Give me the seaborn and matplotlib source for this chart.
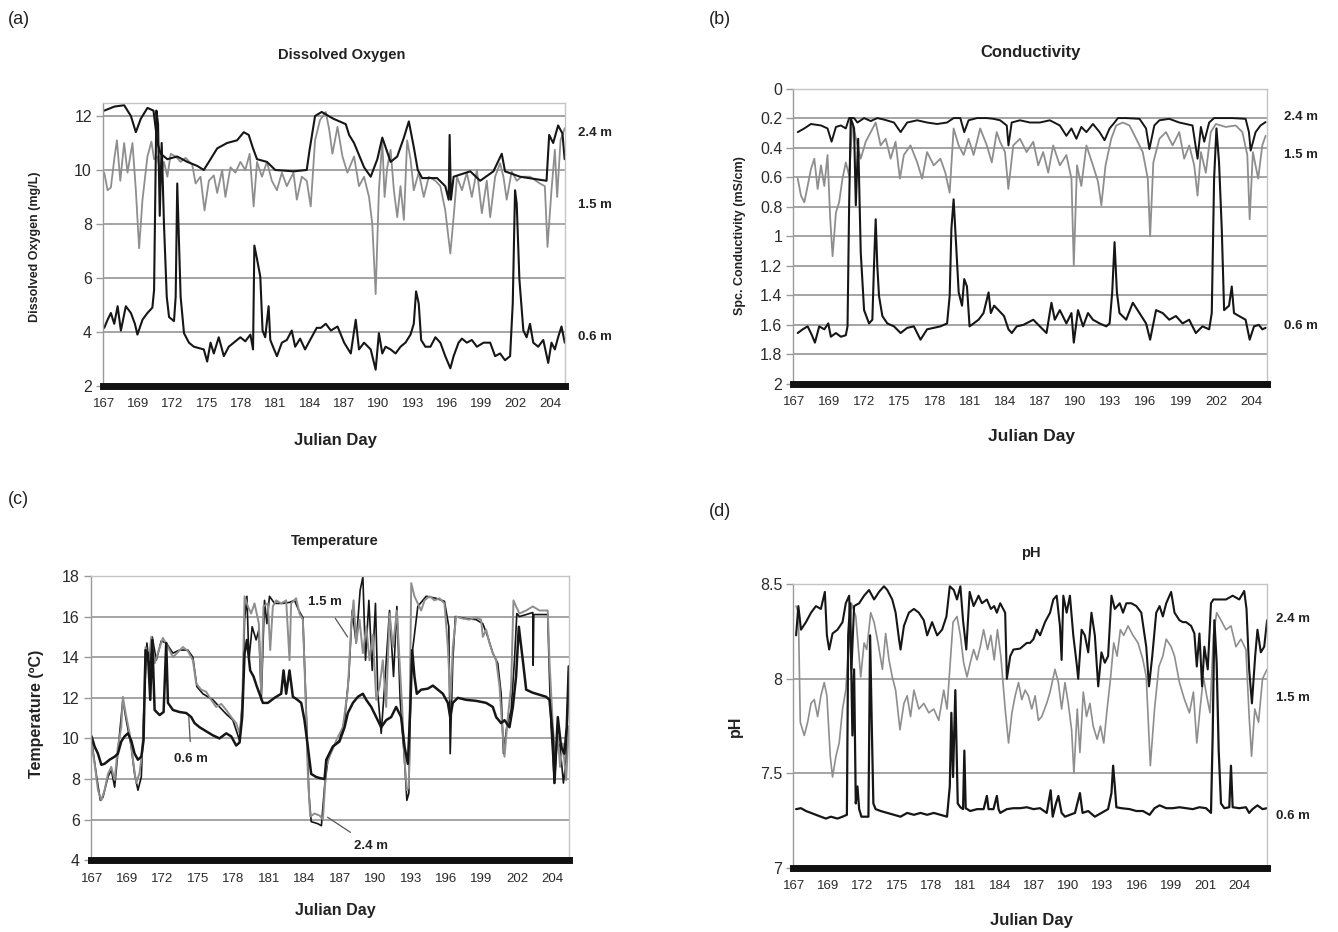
import numpy as np
import matplotlib
matplotlib.use('Agg')
import matplotlib.pyplot as plt
import seaborn as sns

sns.set_theme(style='white')
plt.rcParams['font.family'] = ['Liberation Sans', 'DejaVu Sans']

# x tick labels (evenly spaced category labels, as in the original)
day_labels = ['167', '169', '172', '175', '178', '181', '184', '187',
              '190', '193', '196', '199', '202', '204']
day_labels_ph = ['167', '169', '172', '175', '178', '181', '184', '187',
                 '190', '193', '196', '199', '201', '204']

# ---------------- (a) Dissolved oxygen (mg/L) ----------------
do_24_day = [167.05, 167.9, 168.7, 169.26, 169.67, 170.08, 170.63, 171.13, 171.46, 171.73,
             172.28, 173.1, 173.93, 174.76, 175.3, 175.72, 176.41, 177.23, 178.06, 178.61,
             179.02, 179.38, 179.71, 180.53, 181.22, 182.73, 183.83, 184.05, 184.52, 185.07,
             186.03, 187.06, 187.34, 187.75, 188.58, 189.13, 189.68, 190.09, 190.36, 190.78,
             191.33, 191.88, 192.29, 192.7, 193.03, 193.39, 194.63, 195.31, 195.59, 195.67,
             195.78, 196.0, 197.38, 198.2, 199.3, 199.99, 200.26, 201.5, 203.7, 203.92,
             204.25, 204.66, 205.02, 205.2]
do_24 = [12.2, 12.35, 12.4, 12.0, 11.4, 11.9, 12.3, 12.2, 11.0, 10.6,
         10.4, 10.5, 10.3, 10.15, 10.0, 10.3, 10.8, 11.0, 11.1, 11.4,
         11.3, 10.8, 10.4, 10.3, 10.0, 9.95, 10.0, 10.7, 12.0, 12.15,
         11.9, 11.7, 11.3, 11.0, 10.1, 9.75, 10.4, 11.2, 10.85, 10.3,
         10.5, 11.2, 11.8, 10.85, 10.0, 9.7, 9.7, 9.4, 8.9, 11.3,
         8.9, 9.75, 9.95, 9.6, 9.95, 10.6, 9.95, 9.75, 9.6, 11.3,
         11.0, 11.65, 11.35, 10.4]

do_15_day = [167.05, 167.33, 167.6, 167.88, 168.1, 168.38, 168.7, 168.98, 169.39, 169.67,
             169.94, 170.22, 170.63, 170.96, 171.18, 171.46, 171.73, 172.0, 172.28, 172.56,
             172.97, 173.38, 173.79, 174.34, 174.62, 175.03, 175.36, 175.72, 176.13, 176.41,
             176.82, 177.09, 177.51, 177.92, 178.33, 178.74, 179.1, 179.43, 179.71, 180.12,
             180.53, 180.94, 181.36, 181.77, 182.18, 182.73, 183.01, 183.42, 183.83, 184.16,
             184.52, 184.93, 185.41, 185.69, 185.96, 186.38, 186.79, 187.2, 187.75, 188.16,
             188.58, 188.99, 189.26, 189.54, 189.81, 190.09, 190.28, 190.5, 190.78, 191.05,
             191.33, 191.6, 191.88, 192.15, 192.43, 192.7, 193.11, 193.53, 193.94, 194.49,
             194.9, 195.31, 195.73, 196.0, 196.28, 196.69, 197.1, 197.51, 197.93, 198.34,
             198.75, 199.03, 199.44, 199.85, 200.13, 200.4, 200.81, 201.23, 201.64, 202.33,
             203.15, 203.56, 203.78, 204.11, 204.39, 204.58, 204.86, 205.21]
do_15 = [9.9, 9.25, 9.35, 10.4, 11.1, 9.6, 11.0, 9.9, 11.0, 9.25,
         7.1, 8.9, 10.5, 11.05, 10.4, 10.5, 9.75, 10.3, 9.75, 10.6,
         10.5, 10.3, 10.45, 10.2, 9.5, 9.75, 8.5, 9.6, 9.8, 9.15,
         10.0, 9.0, 10.1, 9.9, 10.3, 10.0, 10.6, 8.65, 10.3, 9.75,
         10.3, 9.6, 9.25, 9.9, 9.4, 9.9, 8.9, 9.75, 9.6, 8.65,
         11.1, 11.85, 12.15, 11.5, 10.6, 11.6, 10.5, 9.9, 10.5, 9.4,
         9.75, 9.0, 8.0, 5.4, 9.25, 11.1, 9.0, 10.1, 10.75, 9.25,
         8.25, 9.4, 8.15, 11.1, 10.4, 9.25, 9.9, 9.0, 9.75, 9.6,
         9.4, 8.5, 6.9, 8.25, 9.75, 9.25, 9.9, 9.0, 10.0, 8.4,
         9.6, 8.25, 9.75, 10.25, 9.75, 8.9, 9.95, 9.6, 9.75, 9.75,
         9.5, 9.4, 7.15, 9.25, 10.75, 9.0, 11.1, 11.55]

do_06_day = [167.05, 167.33, 167.6, 167.88, 168.16, 168.43, 168.84, 169.26, 169.59, 169.8,
             170.22, 170.63, 171.04, 171.18, 171.37, 171.51, 171.65, 171.81, 172.0, 172.23,
             172.42, 172.83, 172.97, 173.1, 173.24, 173.38, 173.66, 174.07, 174.48, 174.89,
             175.3, 175.58, 175.86, 176.13, 176.54, 176.96, 177.37, 177.78, 178.33, 178.74,
             179.16, 179.38, 179.49, 179.71, 179.98, 180.17, 180.39, 180.67, 180.81, 181.08,
             181.36, 181.77, 182.18, 182.59, 182.87, 183.28, 183.69, 184.11, 184.66, 185.0,
             185.41, 185.83, 186.38, 186.93, 187.48, 187.89, 188.16, 188.58, 189.13, 189.54,
             189.81, 190.09, 190.36, 190.78, 191.19, 191.6, 192.01, 192.43, 192.7, 192.89,
             193.11, 193.31, 193.66, 194.08, 194.49, 194.9, 195.31, 195.73, 196.0, 196.41,
             196.69, 197.1, 197.51, 197.93, 198.48, 199.03, 199.44, 199.85, 200.26, 200.68,
             200.9, 201.09, 201.23, 201.45, 201.78, 202.05, 202.33, 202.6, 203.01, 203.43,
             203.84, 204.11, 204.39, 204.66, 204.94, 205.21]
do_06 = [4.15, 4.45, 4.7, 4.3, 4.95, 4.05, 4.95, 4.7, 4.3, 3.9,
         4.45, 4.7, 4.9, 5.55, 12.2, 11.7, 8.3, 11.0, 8.0, 5.3,
         4.55, 4.4, 5.3, 9.5, 7.4, 5.3, 3.95, 3.6, 3.45, 3.4,
         3.35, 2.9, 3.6, 3.2, 3.8, 3.1, 3.45, 3.6, 3.8, 3.65,
         3.9, 3.35, 7.2, 6.7, 6.05, 4.05, 3.8, 4.95, 3.7, 3.4,
         3.1, 3.6, 3.7, 4.05, 3.45, 3.75, 3.35, 3.7, 4.15, 4.15,
         4.3, 4.05, 4.2, 3.6, 3.2, 4.45, 3.35, 3.6, 3.35, 2.6,
         3.95, 3.2, 3.45, 3.35, 3.2, 3.45, 3.6, 3.9, 4.3, 5.5,
         5.05, 3.7, 3.45, 3.45, 3.8, 3.6, 3.1, 2.65, 3.1, 3.6,
         3.75, 3.6, 3.7, 3.45, 3.6, 3.6, 3.1, 3.2, 2.95, 3.1,
         5.05, 9.25, 8.75, 5.95, 4.05, 3.8, 4.3, 3.6, 3.45, 3.7,
         2.85, 3.6, 3.35, 3.8, 4.2, 3.6]

# ---------------- (b) Specific conductivity (mS/cm) ----------------
sc_24_day = [167.3, 167.83, 168.37, 169.18, 169.71, 170.04, 170.39, 170.79, 171.19, 171.46,
             171.86, 172.13, 172.67, 173.21, 173.74, 174.28, 175.09, 175.63, 176.16, 176.97,
             177.77, 178.58, 179.39, 179.92, 180.46, 180.78, 181.13, 181.81, 182.61, 183.15,
             183.69, 184.22, 184.36, 184.62, 185.29, 186.1, 186.9, 187.71, 188.52, 189.05,
             189.46, 189.86, 190.26, 190.67, 191.2, 191.74, 192.14, 192.55, 192.95, 193.22,
             193.89, 194.97, 195.5, 195.77, 196.17, 196.58, 197.38, 198.19, 198.73, 199.26,
             199.67, 199.94, 200.21, 200.61, 201.01, 202.49, 203.56, 203.83, 203.97, 204.37,
             204.77, 205.18]
sc_24 = [0.295, 0.27, 0.24, 0.25, 0.27, 0.36, 0.26, 0.25, 0.27, 0.2,
         0.2, 0.23, 0.2, 0.22, 0.2, 0.21, 0.23, 0.295, 0.23, 0.215,
         0.23, 0.24, 0.23, 0.2, 0.2, 0.295, 0.215, 0.2, 0.2, 0.205,
         0.215, 0.25, 0.385, 0.23, 0.215, 0.23, 0.23, 0.215, 0.25, 0.32,
         0.27, 0.34, 0.26, 0.295, 0.24, 0.295, 0.35, 0.27, 0.23, 0.2,
         0.2, 0.205, 0.27, 0.41, 0.25, 0.215, 0.205, 0.23, 0.24, 0.25,
         0.475, 0.26, 0.36, 0.23, 0.2, 0.2, 0.205, 0.295, 0.42, 0.295,
         0.25, 0.227]

sc_15_day = [167.3, 167.56, 167.83, 168.1, 168.37, 168.64, 168.91, 169.18, 169.45, 169.71,
             169.93, 170.12, 170.39, 170.65, 170.92, 171.19, 171.46, 171.73, 172.13, 172.4,
             172.8, 173.21, 173.61, 174.01, 174.42, 174.82, 175.22, 175.57, 175.89, 176.43,
             176.97, 177.37, 177.77, 178.31, 178.85, 179.25, 179.6, 179.92, 180.33, 180.73,
             181.13, 181.54, 182.07, 182.61, 183.01, 183.41, 183.68, 184.08, 184.35, 184.75,
             185.29, 185.83, 186.37, 186.77, 187.17, 187.58, 187.98, 188.52, 189.05, 189.46,
             189.65, 189.91, 190.26, 190.67, 191.2, 191.61, 191.88, 192.22, 192.68, 193.08,
             193.62, 194.16, 194.7, 195.23, 195.64, 195.83, 196.09, 196.58, 197.12, 197.65,
             198.19, 198.59, 199.0, 199.4, 199.67, 199.94, 200.34, 200.74, 201.15, 201.95,
             202.76, 203.3, 203.7, 203.89, 204.15, 204.58, 204.91, 205.18]
sc_15 = [0.61, 0.725, 0.77, 0.66, 0.545, 0.475, 0.68, 0.52, 0.66, 0.45,
         0.885, 1.135, 0.84, 0.77, 0.61, 0.5, 0.59, 0.23, 0.385, 0.475,
         0.36, 0.295, 0.23, 0.385, 0.34, 0.475, 0.36, 0.61, 0.45, 0.385,
         0.5, 0.61, 0.43, 0.52, 0.475, 0.57, 0.705, 0.27, 0.385, 0.45,
         0.34, 0.45, 0.27, 0.385, 0.5, 0.295, 0.36, 0.43, 0.68, 0.385,
         0.34, 0.43, 0.36, 0.52, 0.43, 0.57, 0.385, 0.52, 0.45, 0.61,
         1.2, 0.52, 0.66, 0.385, 0.52, 0.63, 0.79, 0.52, 0.34, 0.25,
         0.23, 0.25, 0.34, 0.43, 0.61, 1.0, 0.5, 0.34, 0.295, 0.385,
         0.295, 0.475, 0.385, 0.52, 0.725, 0.43, 0.57, 0.295, 0.24, 0.26,
         0.25, 0.295, 0.45, 0.885, 0.43, 0.61, 0.385, 0.32]

sc_06_day = [167.3, 167.7, 168.1, 168.42, 168.69, 169.04, 169.45, 169.77, 169.98, 170.39,
             170.79, 171.19, 171.33, 171.46, 171.59, 171.86, 172.0, 172.19, 172.4, 172.67,
             173.07, 173.34, 173.48, 173.61, 173.74, 173.88, 174.15, 174.55, 175.09, 175.63,
             176.16, 176.7, 177.24, 177.77, 178.31, 178.85, 179.39, 179.6, 179.74, 179.92,
             180.11, 180.33, 180.6, 180.78, 181.0, 181.21, 181.54, 181.94, 182.34, 182.75,
             182.93, 183.2, 183.55, 184.0, 184.36, 184.63, 185.03, 185.56, 186.37, 186.9,
             187.44, 187.84, 188.11, 188.52, 189.05, 189.46, 189.65, 189.99, 190.4, 190.8,
             191.2, 191.74, 192.28, 192.55, 192.76, 192.95, 193.14, 193.35, 193.89, 194.43,
             194.97, 195.5, 195.83, 196.31, 196.85, 197.38, 197.92, 198.46, 198.99, 199.53,
             200.07, 200.61, 200.82, 201.01, 201.2, 201.41, 201.63, 201.82, 202.22, 202.44,
             202.62, 203.03, 203.56, 203.89, 204.24, 204.64, 204.91, 205.18]
sc_06 = [1.655, 1.63, 1.61, 1.665, 1.72, 1.61, 1.63, 1.59, 1.68, 1.655,
         1.68, 1.67, 1.61, 0.79, 0.2, 0.27, 0.79, 0.34, 1.11, 1.5,
         1.59, 1.565, 1.18, 0.885, 1.2, 1.405, 1.54, 1.59, 1.61, 1.655,
         1.62, 1.61, 1.7, 1.63, 1.62, 1.61, 1.59, 1.405, 0.95, 0.75,
         1.04, 1.38, 1.47, 1.29, 1.34, 1.61, 1.59, 1.565, 1.52, 1.38,
         1.52, 1.47, 1.5, 1.54, 1.63, 1.655, 1.61, 1.6, 1.565, 1.61,
         1.655, 1.45, 1.565, 1.5, 1.59, 1.52, 1.72, 1.5, 1.61, 1.52,
         1.565, 1.59, 1.61, 1.59, 1.38, 1.04, 1.38, 1.52, 1.565, 1.45,
         1.52, 1.59, 1.7, 1.5, 1.52, 1.565, 1.54, 1.59, 1.565, 1.655,
         1.61, 1.63, 1.52, 0.61, 0.27, 0.5, 0.95, 1.5, 1.47, 1.34,
         1.52, 1.54, 1.565, 1.7, 1.61, 1.6, 1.63, 1.62]

# ---------------- (c) Temperature (degC) ----------------
t_24_day = [167.0, 167.37, 167.7, 167.91, 168.31, 168.58, 168.85, 169.25, 169.51, 169.78,
            170.18, 170.45, 170.72, 170.99, 171.25, 171.44, 171.65, 171.87, 172.19, 172.59,
            172.99, 173.53, 174.06, 174.73, 175.13, 175.45, 175.93, 176.74, 177.27, 177.81,
            178.34, 178.88, 179.14, 179.28, 179.47, 179.63, 179.89, 180.21, 180.43, 180.62,
            180.88, 181.07, 181.28, 181.69, 182.35, 182.89, 183.29, 183.64, 183.96, 184.23,
            184.44, 184.63, 185.16, 185.45, 185.7, 185.97, 186.37, 186.9, 187.31, 187.65,
            187.92, 188.24, 188.56, 188.78, 188.99, 189.26, 189.53, 189.79, 189.98, 190.25,
            190.52, 190.92, 191.24, 191.51, 191.77, 192.12, 192.31, 192.47, 192.66, 192.84,
            193.19, 193.86, 194.66, 195.33, 195.68, 195.79, 196.0, 196.21, 197.07, 197.87,
            198.41, 198.81, 199.21, 199.61, 199.88, 200.07, 200.33, 200.68, 200.95, 201.14,
            201.35, 201.89, 202.42, 202.45, 202.5, 203.62, 203.76, 203.89, 204.16, 204.35,
            204.61, 204.88, 205.1, 205.31]
t_24 = [9.9, 8.25, 6.95, 7.1, 8.1, 8.45, 7.6, 10.25, 11.9, 10.9,
        9.6, 8.25, 7.45, 8.1, 12.2, 14.7, 13.35, 15.0, 13.85, 14.8,
        14.7, 14.2, 14.35, 14.35, 14.0, 12.55, 12.2, 11.9, 11.55, 11.2,
        10.9, 9.9, 12.2, 15.85, 17.0, 13.85, 15.5, 14.85, 15.35, 11.9,
        16.8, 15.65, 17.0, 16.65, 16.65, 16.7, 16.8, 16.3, 15.95, 11.4,
        7.3, 5.9, 5.8, 5.7, 7.6, 8.95, 9.6, 9.9, 10.9, 13.05,
        16.3, 14.7, 17.3, 17.95, 13.85, 16.8, 13.35, 16.65, 12.2, 10.25,
        12.55, 16.3, 13.05, 16.5, 11.9, 8.95, 6.95, 7.3, 13.85, 14.7,
        16.5, 17.0, 16.9, 16.75, 15.5, 9.25, 13.85, 16.0, 15.9, 15.85,
        15.65, 15.0, 14.2, 13.7, 12.2, 9.25, 10.55, 11.4, 13.85, 16.15,
        16.0, 16.1, 16.2, 13.6, 16.1, 16.1, 13.0, 10.55, 7.8, 9.9,
        9.6, 7.8, 8.95, 13.35]

t_15_day = [167.0, 167.24, 167.51, 167.78, 168.04, 168.31, 168.58, 168.85, 169.11, 169.38,
            169.51, 169.73, 170.05, 170.32, 170.58, 170.85, 171.12, 171.33, 171.6, 171.79,
            172.06, 172.32, 172.72, 173.13, 173.53, 173.93, 174.33, 174.73, 175.13, 175.4,
            175.8, 176.2, 176.6, 177.0, 177.41, 177.81, 178.21, 178.61, 178.88, 179.09,
            179.28, 179.55, 179.81, 180.08, 180.43, 180.62, 180.8, 181.15, 181.34, 181.55,
            181.82, 182.22, 182.62, 182.89, 183.02, 183.42, 183.69, 183.96, 184.17, 184.36,
            184.55, 184.9, 185.3, 185.57, 185.84, 186.1, 186.64, 187.17, 187.57, 187.84,
            188.03, 188.24, 188.51, 188.78, 189.05, 189.31, 189.58, 189.85, 190.12, 190.38,
            190.65, 190.92, 191.19, 191.51, 191.72, 191.93, 192.12, 192.31, 192.47, 192.66,
            192.92, 193.19, 193.46, 193.73, 194.13, 194.53, 194.93, 195.33, 195.6, 195.81,
            196.0, 196.27, 196.8, 197.34, 197.87, 198.27, 198.41, 198.68, 198.94, 199.21,
            199.48, 199.75, 199.96, 200.15, 200.41, 200.68, 200.87, 201.08, 201.35, 201.89,
            202.42, 202.96, 203.62, 203.76, 204.03, 204.24, 204.43, 204.61, 204.83, 205.1,
            205.31]
t_15 = [9.75, 8.75, 7.45, 6.95, 7.45, 8.25, 8.6, 7.95, 9.6, 10.55,
        12.05, 11.25, 10.25, 8.95, 7.8, 8.3, 9.6, 14.5, 13.85, 15.0,
        13.7, 14.2, 14.95, 14.5, 14.0, 14.25, 14.5, 14.3, 13.85, 12.7,
        12.4, 12.3, 11.9, 11.55, 11.7, 11.4, 11.05, 10.75, 10.25, 11.4,
        17.0, 16.5, 16.15, 16.65, 15.65, 12.2, 16.5, 16.65, 14.35, 16.5,
        16.8, 16.65, 16.8, 13.85, 16.65, 16.9, 16.15, 15.85, 12.2, 8.25,
        6.15, 6.3, 6.2, 6.0, 8.6, 9.1, 9.9, 10.55, 12.4, 15.5,
        16.8, 14.7, 15.85, 14.2, 15.5, 13.85, 15.1, 11.9, 12.55, 13.85,
        11.55, 16.15, 14.5, 16.3, 13.85, 11.55, 8.95, 7.45, 7.6, 17.65,
        17.0, 16.65, 16.3, 16.8, 17.0, 16.8, 16.9, 16.65, 14.5, 11.9,
        14.5, 16.0, 15.9, 15.85, 15.95, 15.85, 15.0, 15.35, 14.7, 14.2,
        13.85, 12.55, 10.6, 9.1, 11.0, 12.55, 16.8, 16.5, 16.15, 16.3,
        16.5, 16.3, 16.3, 13.85, 10.6, 8.95, 10.1, 8.6, 9.75, 7.95,
        10.6]

t_06_day = [167.0, 167.24, 167.51, 167.78, 168.04, 168.44, 168.85, 169.11, 169.38, 169.65,
            169.92, 170.18, 170.45, 170.72, 170.99, 171.17, 171.33, 171.52, 171.71, 171.87,
            172.06, 172.46, 172.78, 172.99, 173.13, 173.53, 174.06, 174.6, 175.0, 175.27,
            175.67, 176.2, 176.74, 177.27, 177.81, 178.21, 178.61, 178.88, 179.09, 179.28,
            179.47, 179.73, 180.0, 180.27, 180.48, 180.75, 181.15, 181.69, 182.22, 182.41,
            182.62, 182.89, 183.16, 183.42, 183.83, 184.09, 184.36, 184.63, 185.03, 185.3,
            185.7, 185.84, 186.37, 186.9, 187.31, 187.57, 187.98, 188.38, 188.78, 189.05,
            189.45, 189.85, 190.25, 190.65, 191.05, 191.45, 191.85, 192.12, 192.39, 192.58,
            192.74, 192.92, 193.11, 193.46, 193.99, 194.4, 194.8, 195.2, 195.6, 195.79,
            196.0, 196.4, 197.07, 197.87, 198.68, 199.21, 199.48, 199.88, 200.15, 200.55,
            200.82, 201.08, 201.3, 201.62, 201.89, 202.42, 202.96, 203.49, 203.76, 204.03,
            204.16, 204.43, 204.69, 204.96, 205.15, 205.31]
t_06 = [10.1, 9.6, 9.25, 8.7, 8.75, 8.95, 9.1, 9.25, 9.85, 10.1,
        10.25, 9.9, 9.25, 8.95, 9.1, 9.9, 14.35, 14.2, 11.9, 14.85,
        11.4, 11.15, 11.3, 14.7, 11.75, 11.4, 11.3, 11.25, 11.05, 10.75,
        10.55, 10.35, 10.15, 10.0, 10.25, 10.1, 9.65, 9.8, 11.05, 14.2,
        14.85, 13.35, 13.05, 12.55, 12.2, 11.75, 11.75, 12.0, 12.2, 13.35,
        12.2, 13.35, 12.05, 11.95, 11.75, 10.9, 9.6, 8.25, 8.1, 8.05,
        8.0, 8.95, 9.6, 9.85, 10.55, 11.25, 11.75, 12.05, 12.2, 11.9,
        11.55, 11.05, 10.55, 10.9, 11.05, 11.55, 11.05, 9.6, 8.75, 11.4,
        14.35, 13.05, 12.2, 12.4, 12.45, 12.6, 12.4, 12.2, 11.75, 11.05,
        11.75, 12.0, 11.9, 11.85, 11.75, 11.55, 11.05, 10.75, 10.9, 10.55,
        11.55, 13.05, 15.5, 13.85, 12.4, 12.25, 12.15, 12.05, 11.9, 10.1,
        7.8, 11.05, 9.6, 9.25, 10.6, 13.55]

# ---------------- (d) pH ----------------
ph_24_day = [167.17, 167.36, 167.58, 167.99, 168.41, 168.82, 169.23, 169.56, 169.73, 169.92,
             170.2, 170.61, 171.03, 171.3, 171.58, 171.77, 171.99, 172.41, 172.82, 173.23,
             173.65, 174.06, 174.47, 174.75, 175.16, 175.44, 175.72, 175.85, 176.13, 176.54,
             176.96, 177.37, 177.78, 178.06, 178.47, 178.89, 179.3, 179.66, 179.94, 180.27,
             180.54, 180.82, 181.04, 181.31, 181.59, 181.92, 182.33, 182.61, 183.02, 183.35,
             183.63, 183.85, 184.13, 184.54, 184.68, 184.96, 185.23, 185.78, 186.34, 186.61,
             186.89, 187.16, 187.44, 187.85, 188.27, 188.54, 188.82, 189.09, 189.23, 189.37,
             189.65, 189.92, 190.2, 190.47, 190.61, 190.89, 191.16, 191.44, 191.71, 191.99,
             192.27, 192.54, 192.82, 193.09, 193.37, 193.65, 194.06, 194.33, 194.61, 195.02,
             195.44, 195.85, 196.26, 196.49, 196.76, 197.09, 197.37, 197.64, 197.92, 198.33,
             198.61, 199.02, 199.3, 199.57, 199.99, 200.26, 200.46, 200.68, 200.9, 201.09,
             201.37, 201.64, 201.84, 202.33, 202.88, 203.44, 203.99, 204.4, 204.59, 204.81,
             205.04, 205.31, 205.5, 205.78, 206.06, 206.3]
ph_24 = [8.23, 8.385, 8.26, 8.3, 8.35, 8.385, 8.37, 8.46, 8.23, 8.155,
         8.24, 8.26, 8.3, 8.4, 8.44, 8.05, 8.385, 8.4, 8.44, 8.47,
         8.42, 8.46, 8.49, 8.47, 8.42, 8.35, 8.21, 8.155, 8.28, 8.35,
         8.37, 8.35, 8.31, 8.23, 8.3, 8.23, 8.26, 8.33, 8.49, 8.47,
         8.42, 8.49, 8.31, 8.155, 8.46, 8.385, 8.44, 8.4, 8.42, 8.37,
         8.385, 8.35, 8.4, 8.35, 8.0, 8.12, 8.155, 8.16, 8.19, 8.19,
         8.21, 8.26, 8.23, 8.3, 8.35, 8.42, 8.44, 8.28, 8.1, 8.44,
         8.35, 8.44, 8.23, 8.085, 8.0, 8.26, 8.23, 8.14, 8.35, 8.23,
         7.96, 8.14, 8.085, 8.12, 8.44, 8.37, 8.4, 8.35, 8.4, 8.4,
         8.385, 8.35, 8.17, 7.96, 8.12, 8.35, 8.385, 8.33, 8.4, 8.46,
         8.35, 8.31, 8.3, 8.3, 8.28, 8.24, 8.065, 8.24, 7.96, 8.17,
         8.05, 8.4, 8.42, 8.42, 8.42, 8.44, 8.42, 8.465, 8.37, 8.05,
         7.87, 8.12, 8.26, 8.14, 8.17, 8.31]

ph_15_day = [167.17, 167.36, 167.52, 167.85, 168.13, 168.41, 168.68, 168.96, 169.23, 169.51,
             169.73, 170.01, 170.2, 170.48, 170.75, 171.03, 171.3, 171.5, 171.77, 172.13,
             172.54, 172.82, 173.04, 173.37, 173.65, 173.98, 174.34, 174.61, 174.89, 175.16,
             175.44, 175.8, 176.13, 176.4, 176.68, 176.96, 177.37, 177.78, 178.2, 178.61,
             179.02, 179.44, 179.71, 179.94, 180.21, 180.54, 180.82, 181.09, 181.37, 181.64,
             181.92, 182.2, 182.47, 182.75, 183.08, 183.35, 183.63, 183.9, 184.18, 184.54,
             184.82, 185.1, 185.37, 185.65, 185.92, 186.2, 186.47, 186.75, 187.03, 187.3,
             187.58, 187.99, 188.27, 188.68, 188.96, 189.23, 189.51, 189.78, 190.06, 190.25,
             190.53, 190.75, 191.03, 191.3, 191.58, 191.85, 192.18, 192.46, 192.73, 193.01,
             193.29, 193.56, 193.84, 194.11, 194.39, 194.75, 195.16, 195.58, 195.99, 196.26,
             196.6, 196.95, 197.31, 197.64, 197.92, 198.33, 198.61, 199.02, 199.44, 199.85,
             200.18, 200.46, 200.73, 201.01, 201.28, 201.56, 201.84, 202.11, 202.47, 202.88,
             203.3, 203.71, 204.13, 204.54, 204.81, 205.01, 205.28, 205.59, 205.92, 206.3]
ph_15 = [8.385, 8.35, 7.77, 7.7, 7.77, 7.87, 7.89, 7.8, 7.91, 7.98,
         7.91, 7.59, 7.48, 7.59, 7.66, 7.84, 7.94, 8.14, 8.4, 8.33,
         8.01, 8.19, 8.155, 8.35, 8.3, 8.19, 8.05, 8.24, 8.1, 8.01,
         7.94, 7.73, 7.87, 7.91, 7.8, 7.94, 7.84, 7.87, 7.82, 7.84,
         7.78, 7.94, 7.84, 8.05, 8.3, 8.33, 8.23, 8.085, 8.01, 8.085,
         8.155, 8.1, 8.17, 8.26, 8.155, 8.23, 8.1, 8.26, 8.12, 7.84,
         7.66, 7.82, 7.91, 7.98, 7.89, 7.94, 7.91, 7.84, 7.91, 7.78,
         7.8, 7.87, 7.93, 8.05, 7.98, 7.84, 7.98, 7.87, 7.73, 7.5,
         7.84, 7.61, 7.93, 7.8, 7.87, 7.75, 7.68, 7.75, 7.66, 7.84,
         8.0, 8.19, 8.12, 8.26, 8.23, 8.28, 8.23, 8.19, 8.1, 8.01,
         7.54, 7.84, 8.065, 8.12, 8.21, 8.17, 8.12, 7.98, 7.89, 7.82,
         7.93, 7.66, 7.84, 8.01, 7.91, 7.82, 8.23, 8.35, 8.31, 8.26,
         8.28, 8.17, 8.21, 8.155, 7.8, 7.59, 7.84, 7.77, 8.0, 8.05]

ph_06_day = [167.17, 167.58, 167.99, 168.41, 168.82, 169.23, 169.65, 170.06, 170.61, 171.03,
             171.39, 171.5, 171.66, 171.85, 171.99, 172.13, 172.27, 172.41, 172.6, 173.18,
             173.32, 173.45, 173.59, 173.78, 174.2, 174.75, 175.3, 175.85, 176.4, 176.96,
             177.51, 178.06, 178.61, 179.16, 179.71, 179.94, 180.07, 180.21, 180.4, 180.6,
             180.82, 181.04, 181.15, 181.26, 181.64, 182.2, 182.75, 183.02, 183.16, 183.57,
             183.85, 183.99, 184.13, 184.68, 185.23, 185.78, 186.34, 186.89, 187.44, 187.99,
             188.32, 188.49, 188.76, 188.96, 189.23, 189.51, 189.92, 190.34, 190.75, 190.97,
             191.44, 191.99, 192.54, 193.09, 193.37, 193.51, 193.65, 193.78, 194.2, 194.89,
             195.44, 195.99, 196.54, 196.95, 197.37, 197.92, 198.47, 199.02, 199.57, 200.13,
             200.68, 201.23, 201.64, 201.78, 201.92, 202.11, 202.28, 202.47, 202.75, 203.16,
             203.3, 203.44, 203.99, 204.54, 204.81, 205.09, 205.5, 205.92, 206.3]
ph_06 = [7.31, 7.315, 7.3, 7.29, 7.28, 7.27, 7.26, 7.27, 7.26, 7.27,
         7.28, 8.23, 8.4, 7.7, 8.05, 7.34, 7.43, 7.31, 7.27, 7.27,
         8.23, 7.78, 7.34, 7.31, 7.3, 7.29, 7.28, 7.27, 7.29, 7.28,
         7.29, 7.28, 7.29, 7.28, 7.27, 7.43, 7.82, 7.48, 7.94, 7.34,
         7.32, 7.31, 7.62, 7.315, 7.3, 7.31, 7.31, 7.38, 7.31, 7.31,
         7.38, 7.31, 7.29, 7.31, 7.315, 7.315, 7.32, 7.31, 7.315, 7.29,
         7.41, 7.27, 7.34, 7.38, 7.29, 7.27, 7.28, 7.29, 7.395, 7.29,
         7.3, 7.27, 7.29, 7.31, 7.395, 7.54, 7.43, 7.32, 7.315, 7.31,
         7.3, 7.3, 7.28, 7.315, 7.33, 7.315, 7.315, 7.32, 7.315, 7.31,
         7.32, 7.315, 7.29, 7.7, 8.31, 8.085, 7.62, 7.34, 7.315, 7.32,
         7.54, 7.32, 7.315, 7.32, 7.29, 7.31, 7.33, 7.31, 7.315]

BLACK = '#161616'
GRAY = '#8e8e8e'


def style(ax, ylim, yticks, ylabels, xmax, xlabels, invert=False):
    ax.set_xlim(166.95, xmax)
    if invert:
        ax.set_ylim(ylim[1], ylim[0])
    else:
        ax.set_ylim(*ylim)
    ax.set_yticks(yticks)
    ax.set_yticklabels(ylabels)
    ax.set_xticks(np.linspace(167, 204, 14))
    ax.set_xticklabels(xlabels)
    lo, hi = min(ylim), max(ylim)
    for t in yticks:
        if lo < t < hi:
            ax.axhline(t, color='#8c8c8c', lw=1.1, zorder=0.5)
    for s in ['top', 'right']:
        ax.spines[s].set_color('#c4c4c4')
        ax.spines[s].set_linewidth(1.0)
    ax.spines['left'].set_color('#9a9a9a')
    ax.spines['left'].set_linewidth(1.0)
    ax.spines['bottom'].set_color('#111111')
    ax.spines['bottom'].set_linewidth(5)
    ax.tick_params(axis='y', left=True, length=5, width=1, color='#9a9a9a',
                   labelsize=11.5, labelcolor='#2a2a2a', pad=3)
    ax.tick_params(axis='x', bottom=False, length=0, labelsize=9.5,
                   labelcolor='#2a2a2a', pad=9)
    ax.set_xlabel('')
    ax.set_ylabel('')


def line(ax, x, y, color, lw):
    sns.lineplot(x=x, y=y, ax=ax, color=color, lw=lw, estimator=None, sort=False)


fig = plt.figure(figsize=(13.38, 9.32), dpi=100)
ax_a = fig.add_axes([0.077, 0.586, 0.345, 0.304])
ax_b = fig.add_axes([0.593, 0.588, 0.354, 0.317])
ax_c = fig.add_axes([0.068, 0.077, 0.357, 0.305])
ax_d = fig.add_axes([0.593, 0.069, 0.354, 0.304])

# (a)
line(ax_a, do_15_day, do_15, GRAY, 1.3)
line(ax_a, do_24_day, do_24, BLACK, 1.5)
line(ax_a, do_06_day, do_06, BLACK, 1.5)
style(ax_a, (2, 12.5), list(range(2, 13, 2)), [str(v) for v in range(2, 13, 2)],
      205.2, day_labels)

# (b)
line(ax_b, sc_15_day, sc_15, GRAY, 1.3)
line(ax_b, sc_24_day, sc_24, BLACK, 1.4)
line(ax_b, sc_06_day, sc_06, BLACK, 1.5)
b_ticks = [round(0.2 * i, 1) for i in range(11)]
style(ax_b, (0, 2), b_ticks, ['0', '0.2', '0.4', '0.6', '0.8', '1', '1.2', '1.4',
                              '1.6', '1.8', '2'], 205.3, day_labels, invert=True)

# (c)
line(ax_c, t_24_day, t_24, BLACK, 1.2)
line(ax_c, t_15_day, t_15, GRAY, 1.4)
line(ax_c, t_06_day, t_06, BLACK, 1.8)
style(ax_c, (4, 18), list(range(4, 19, 2)), [str(v) for v in range(4, 19, 2)],
      205.3, day_labels)

# (d)
line(ax_d, ph_15_day, ph_15, GRAY, 1.2)
line(ax_d, ph_24_day, ph_24, BLACK, 1.5)
line(ax_d, ph_06_day, ph_06, BLACK, 1.6)
style(ax_d, (7, 8.5), [7, 7.5, 8, 8.5], ['7', '7.5', '8', '8.5'], 206.3, day_labels_ph)


def ftext(x, y, s, **kw):
    fig.text(x / 1338, 1 - y / 932, s, **kw)


panel_font = ['Liberation Sans Narrow', 'Liberation Sans', 'DejaVu Sans']
for (px, py, s) in [(8, 19, '(a)'), (709, 19, '(b)'), (8, 499, '(c)'), (709, 511, '(d)')]:
    ftext(px, py, s, fontsize=13, family=panel_font, ha='left', va='center', color='#222222')

bold = dict(fontweight='bold', color='#222222', ha='center', va='center')
ftext(342, 55, 'Dissolved Oxygen', fontsize=10.5, **bold)
ftext(1031, 52, 'Conductivity', fontsize=12, **bold)
ftext(335, 541, 'Temperature', fontsize=10.5, **bold)
ftext(1031, 553, 'pH', fontsize=10.5, **bold)

ftext(335, 440, 'Julian Day', fontsize=12, **bold)
ftext(1031, 437, 'Julian Day', fontsize=12.5, **bold)
ftext(335, 911, 'Julian Day', fontsize=11.5, **bold)
ftext(1031, 921, 'Julian Day', fontsize=12, **bold)

ftext(35, 247, 'Dissolved Oxygen (mg/L)', fontsize=9, rotation=90, **bold)
ftext(740, 236, 'Spc. Conductivity (mS/cm)', fontsize=9, rotation=90, **bold)
ftext(36, 714, 'Temperature (ºC)', fontsize=11.5, rotation=90, **bold)
ftext(735, 726, 'pH', fontsize=11.5, rotation=90, **bold)

# depth labels on the right
side = dict(fontsize=9.5, fontweight='bold', color='#222222', ha='left', va='center')
for ax, xf, labels in [(ax_a, 1.028, [(11.37, '2.4 m'), (8.7, '1.5 m'), (3.81, '0.6 m')]),
                       (ax_b, 1.036, [(0.19, '2.4 m'), (0.45, '1.5 m'), (1.605, '0.6 m')]),
                       (ax_d, 1.019, [(8.315, '2.4 m'), (7.896, '1.5 m'), (7.276, '0.6 m')])]:
    for yv, s in labels:
        ax.text(xf, yv, s, transform=ax.get_yaxis_transform(), **side)

# leader labels in (c)
ann = dict(fontsize=9.5, fontweight='bold', color='#222222', ha='center', va='center',
           arrowprops=dict(arrowstyle='-', color='#555555', lw=0.9, shrinkA=6, shrinkB=0))
ax_c.annotate('1.5 m', xy=(187.55, 15.0), xytext=(185.7, 16.72), **ann)
ax_c.annotate('0.6 m', xy=(174.8, 11.07), xytext=(175.0, 8.98), **ann)
ax_c.annotate('2.4 m', xy=(185.94, 6.12), xytext=(189.47, 4.69), **ann)

fig.savefig('out.png', dpi=100)
